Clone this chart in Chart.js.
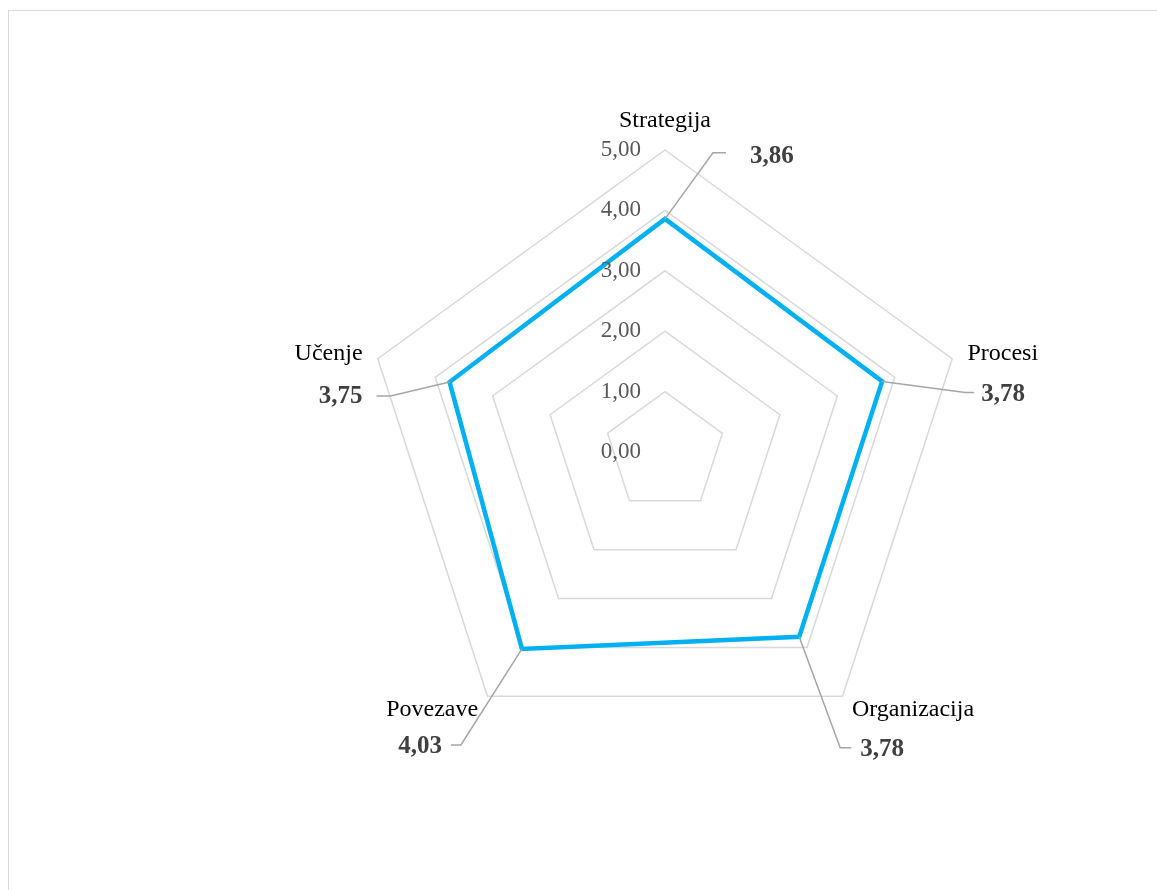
<!DOCTYPE html>
<html>
<head>
<meta charset="utf-8">
<script src="https://cdn.jsdelivr.net/npm/chart.js@4.4.1/dist/chart.umd.min.js"></script>
<style>
  html, body { margin: 0; padding: 0; background: #fff; overflow: hidden; }
  #frame { position: absolute; left: 8px; top: 10px; width: 1300px; height: 1000px; border: 1.5px solid #d9d9d9; }
  #radar { position: absolute; left: 0; top: 0; }
</style>
</head>
<body>
<div id="frame"></div>
<canvas id="radar" width="1157" height="890"></canvas>
<script>
const categories = ['Strategija', 'Procesi', 'Organizacija', 'Povezave', 'Učenje'];
const scores = [3.86, 3.78, 3.78, 4.03, 3.75];
const scaleMin = 0;
const scaleMax = 5;
const scaleStep = 1;

// callout placement: elbow offset from the point, stub length, gap to text
const callouts = [
  { dx: 48, dy: -66, stub: 13, gap: 24, ty: 4 },
  { dx: 83, dy: 11, stub: 9, gap: 7, ty: 2 },
  { dx: 41, dy: 111, stub: 11, gap: 9, ty: 2 },
  { dx: -61, dy: 96, stub: 10, gap: 9, ty: 2 },
  { dx: -59, dy: 14, stub: 14, gap: 14, ty: 1 }
];

const serif = '"Liberation Serif", "Times New Roman", serif';
const fmt = v => v.toFixed(2).replace('.', ',');

const radarText = {
  id: 'radarText',
  afterDraw(chart) {
    const ctx = chart.ctx;
    const r = chart.scales.r;
    ctx.save();

    // scale values left of the vertical axis
    ctx.font = '23px ' + serif;
    ctx.fillStyle = '#595959';
    ctx.textAlign = 'right';
    ctx.textBaseline = 'middle';
    r.ticks.forEach(t => {
      const p = r.getPointPositionForValue(0, t.value);
      ctx.fillText(fmt(t.value), p.x - 24, p.y);
    });

    // category names outside the outer ring
    ctx.font = '24px ' + serif;
    ctx.fillStyle = '#000';
    chart.data.labels.forEach((lab, i) => {
      const top = i === 0;
      const p = r.getPointPosition(i, r.drawingArea + (top ? 29 : 16));
      const dx = p.x - r.xCenter;
      ctx.textAlign = Math.abs(dx) < 2 ? 'center' : (dx > 0 ? 'left' : 'right');
      ctx.fillText(lab, p.x, p.y);
    });

    // value callouts with leader lines
    const meta = chart.getDatasetMeta(0);
    const values = chart.data.datasets[0].data;
    ctx.font = 'bold 25px ' + serif;
    meta.data.forEach((pt, i) => {
      const c = callouts[i];
      const side = c.dx >= 0 ? 1 : -1;
      const ex = pt.x + c.dx, ey = pt.y + c.dy;
      ctx.strokeStyle = '#a6a6a6';
      ctx.lineWidth = 1.5;
      ctx.beginPath();
      ctx.moveTo(pt.x, pt.y);
      ctx.lineTo(ex, ey);
      ctx.lineTo(ex + side * c.stub, ey);
      ctx.stroke();
      ctx.fillStyle = '#404040';
      ctx.textAlign = side > 0 ? 'left' : 'right';
      ctx.fillText(fmt(values[i]), ex + side * (c.stub + c.gap), ey + c.ty);
    });

    ctx.restore();
  }
};

new Chart(document.getElementById('radar'), {
  type: 'radar',
  data: {
    labels: categories,
    datasets: [{
      data: scores,
      borderColor: '#00b0f0',
      borderWidth: 4.5,
      borderJoinStyle: 'miter',
      fill: false,
      pointRadius: 0,
      pointHoverRadius: 0,
      tension: 0
    }]
  },
  options: {
    responsive: false,
    animation: false,
    layout: { padding: { left: 363, top: 150, right: 190, bottom: 136 } },
    plugins: { legend: { display: false }, tooltip: { enabled: false } },
    scales: {
      r: {
        min: scaleMin,
        max: scaleMax,
        ticks: { stepSize: scaleStep, display: false },
        pointLabels: { display: false },
        angleLines: { display: false },
        grid: { color: '#d9d9d9', lineWidth: 1.5 }
      }
    }
  },
  plugins: [radarText]
});
</script>
</body>
</html>
